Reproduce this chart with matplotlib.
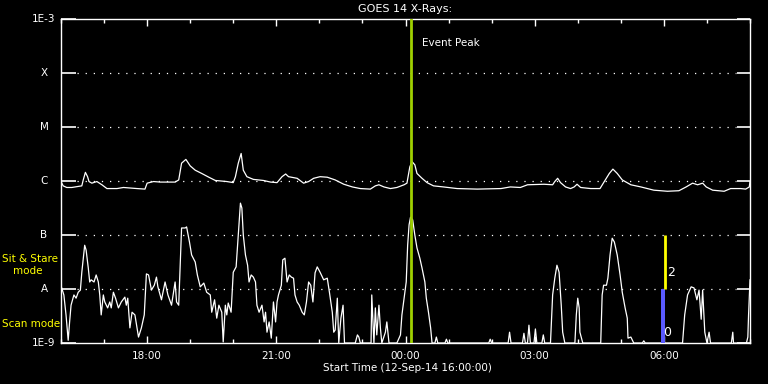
import numpy as np
import matplotlib
matplotlib.use("Agg")
import matplotlib.pyplot as plt

# short channel (0.5-4 A), minutes after 16:00, log10 flux
lo_min = [0, 4, 7, 10, 12, 14, 18, 21, 24, 27, 29, 33, 35, 38, 40, 42, 46, 49, 52, 54,
          56, 59, 61, 65, 68, 70, 73, 76, 80, 84, 89, 91, 93, 96, 99, 103, 106, 108, 112, 116,
          119, 122, 126, 130, 133, 135, 140, 145, 149, 154, 159, 161, 164, 166, 168, 173, 175, 179, 182, 187,
          190, 194, 199, 203, 208, 210, 214, 217, 220, 224, 226, 229, 231, 233, 237, 240, 244, 246, 250, 252,
          254, 257, 260, 262, 265, 268, 271, 273, 276, 280, 283, 285, 287, 290, 293, 296, 299, 301, 303, 307,
          309, 312, 315, 318, 321, 324, 326, 329, 332, 336, 339, 342, 345, 348, 351, 354, 357, 361, 366, 371,
          374, 378, 380, 382, 385, 387, 390, 393, 395, 410, 413, 415, 417, 432, 433, 436, 438, 440, 443, 445,
          447, 452, 454, 457, 468, 473, 475, 478, 481, 483, 485, 487, 490, 493, 496, 500, 503, 507, 509, 512,
          515, 517, 521, 523, 525, 535, 537, 539, 596, 598, 600, 623, 625, 627, 643, 645, 647, 650, 652, 654,
          659, 661, 663, 670, 672, 674, 682, 685, 688, 691, 694, 697, 699, 702, 716, 718, 720, 722, 723, 727,
          752, 754, 756, 760, 762, 765, 768, 771, 775, 779, 782, 786, 789, 790, 794, 798, 810, 812, 814, 866,
          869, 873, 878, 882, 886, 889, 892, 894, 897, 900, 903, 905, 934, 936, 937, 955, 957, 958, 960]
lo_log = [-7.94, -8.11, -8.48, -8.95, -8.61, -8.30, -8.11, -8.17, -8.06, -8.02, -7.69, -7.19, -7.28, -7.61, -7.87, -7.83, -7.87, -7.74, -7.87, -8.11,
          -8.48, -8.11, -8.24, -8.35, -8.24, -8.35, -8.06, -8.17, -8.35, -8.24, -8.15, -8.30, -8.17, -8.72, -8.43, -8.48, -8.72, -8.89, -8.72, -8.48,
          -7.72, -7.74, -8.02, -7.93, -7.78, -7.96, -8.20, -7.87, -8.11, -8.30, -7.87, -8.24, -8.30, -7.56, -6.87, -6.87, -6.85, -7.13, -7.37, -7.50,
          -7.74, -7.96, -7.89, -8.06, -8.11, -8.43, -8.20, -8.54, -8.30, -8.43, -8.98, -8.30, -8.48, -8.26, -8.43, -7.69, -7.59, -7.19, -6.41, -6.50,
          -7.00, -7.37, -7.56, -7.87, -7.74, -7.78, -7.87, -8.30, -8.43, -8.30, -8.61, -8.43, -8.80, -8.61, -8.91, -8.24, -8.61, -8.24, -8.11, -7.93,
          -7.46, -7.43, -7.87, -7.74, -7.78, -7.80, -8.11, -8.24, -8.30, -8.43, -8.48, -8.24, -7.87, -7.93, -8.24, -7.70, -7.59, -7.69, -7.83, -7.80,
          -8.06, -8.43, -8.80, -8.76, -8.17, -9.0, -8.54, -8.30, -9.0, -9.0, -8.85, -8.89, -9.0, -9.0, -8.11, -9.0, -8.35, -8.85, -8.30, -8.72,
          -9.0, -8.80, -8.61, -9.0, -9.0, -8.85, -8.48, -8.17, -7.87, -7.19, -6.81, -6.67, -6.72, -7.00, -7.24, -7.43, -7.61, -7.87, -8.17, -8.43,
          -8.72, -9.0, -9.0, -8.89, -9.0, -9.0, -8.93, -9.0, -9.0, -8.93, -9.0, -9.0, -8.80, -9.0, -9.0, -8.82, -9.0, -9.0, -8.67, -9.0,
          -9.0, -8.74, -9.0, -9.0, -8.85, -9.0, -9.0, -8.11, -7.80, -7.56, -7.69, -8.30, -8.80, -9.0, -9.0, -8.48, -8.17, -8.35, -8.80, -9.0,
          -9.0, -8.11, -7.93, -7.93, -7.80, -7.37, -7.06, -7.13, -7.37, -7.74, -8.06, -8.35, -8.54, -8.91, -8.89, -9.0, -9.0, -8.96, -9.0, -9.0,
          -8.48, -8.11, -7.96, -7.98, -8.20, -8.02, -8.56, -8.02, -8.80, -9.0, -8.80, -9.0, -9.0, -8.80, -9.0, -9.0, -8.89, -8.48, -7.83]

# long channel (1-8 A)
hi_min = [0, 3, 8, 15, 29, 31, 34, 37, 39, 43, 50, 57, 64, 78, 87, 106, 117, 120, 129, 138,
          159, 164, 168, 174, 180, 187, 196, 206, 215, 231, 240, 243, 247, 251, 254, 259, 268, 282, 292, 301,
          308, 313, 317, 329, 338, 345, 352, 361, 371, 382, 394, 406, 417, 431, 438, 443, 450, 459, 468, 478,
          482, 486, 489, 493, 496, 503, 510, 519, 533, 552, 580, 613, 626, 640, 650, 673, 685, 688, 692, 696,
          703, 710, 715, 719, 724, 738, 751, 757, 764, 769, 775, 782, 794, 808, 826, 845, 861, 871, 880, 887,
          894, 899, 908, 924, 933, 947, 954, 959, 960]
hi_log = [-6.01, -6.09, -6.12, -6.12, -6.09, -5.98, -5.84, -5.92, -6.01, -6.04, -6.01, -6.07, -6.14, -6.14, -6.12, -6.14, -6.15, -6.04, -6.01, -6.02,
          -6.02, -5.98, -5.67, -5.60, -5.72, -5.80, -5.86, -5.93, -5.99, -6.01, -6.03, -5.92, -5.67, -5.49, -5.80, -5.92, -5.97, -5.99, -6.02, -6.03,
          -5.92, -5.87, -5.92, -5.95, -6.04, -6.01, -5.95, -5.92, -5.93, -5.98, -6.06, -6.11, -6.14, -6.15, -6.09, -6.07, -6.11, -6.14, -6.12, -6.07,
          -6.04, -5.74, -5.64, -5.70, -5.86, -5.95, -6.03, -6.09, -6.11, -6.14, -6.15, -6.14, -6.11, -6.12, -6.07, -6.06, -6.07, -6.01, -5.95, -6.03,
          -6.11, -6.14, -6.11, -6.06, -6.12, -6.14, -6.14, -6.01, -5.86, -5.78, -5.86, -5.98, -6.07, -6.11, -6.17, -6.19, -6.18, -6.11, -6.04, -6.07,
          -6.04, -6.11, -6.17, -6.19, -6.14, -6.14, -6.15, -6.11, -6.01]

ylevels = [1e-3, 1e-4, 1e-5, 1e-6, 1e-7, 1e-8, 1e-9]
ylabels = ["1E-3", "X", "M", "C", "B", "A", "1E-9"]
xticks_h = [2, 5, 8, 11, 14]
xlabels = ["18:00", "21:00", "00:00", "03:00", "06:00"]

event_peak_min = 488
scan_min, scan_lo, scan_hi = 839, 1e-9, 1e-8
stare_min, stare_lo, stare_hi = 841.6, 1e-8, 1e-7

fig = plt.figure(figsize=(7.68, 3.84), dpi=100, facecolor="black")
ax = fig.add_axes([61 / 768, 41 / 384, 689 / 768, 324 / 384], facecolor="black")

ax.set_yscale("log")
ax.set_ylim(1e-9, 1e-3)
ax.set_xlim(0, 16)

# dotted class levels
for lev in ylevels[1:-1]:
    ax.axhline(lev, xmin=16 / 689, xmax=1 - 14 / 689, color="white",
               lw=0.9, ls=(0, (1, 5.5)), zorder=1)

ax.plot(np.array(hi_min) / 60, 10 ** np.array(hi_log), color="white", lw=0.9, zorder=3)
ax.plot(np.array(lo_min) / 60, 10 ** np.array(lo_log), color="white", lw=0.9, zorder=3)

ax.axvline(event_peak_min / 60, color="#9fd000", lw=2.0, zorder=4)
ax.text(event_peak_min / 60 + 0.25, 10 ** -3.45, "Event Peak", color="white",
        fontsize=7.5, va="center", ha="left")

ax.bar([scan_min / 60], [scan_hi - scan_lo], bottom=scan_lo, width=6 / 60,
       color="#5a5aff", zorder=5)
ax.vlines(stare_min / 60, stare_lo, stare_hi, color="#ffff00", lw=2.0, zorder=5)
ax.text(849.7 / 60, 10 ** -7.69, "2", color="white", fontsize=9, ha="center", va="center", zorder=6)
ax.text(843.9 / 60, 10 ** -8.81, "0", color="white", fontsize=9, ha="center", va="center", zorder=6)

for s in ax.spines.values():
    s.set_color("white")
    s.set_linewidth(1.0)

ax.set_yticks(ylevels)
ax.set_yticklabels([])
ax.yaxis.set_minor_locator(matplotlib.ticker.NullLocator())
ax.tick_params(axis="y", which="major", left=True, right=True, direction="in",
               length=10.8, width=1.2, color="white")
for t in ax.yaxis.get_major_ticks():
    t.tick2line.set_markersize(9.4)
for lev, lab in zip(ylevels, ylabels):
    ax.text(-17 / 689, lev, lab, color="white", fontsize=7.5, ha="center", va="center",
            transform=ax.get_yaxis_transform())

ax.set_xticks(xticks_h)
ax.set_xticklabels(xlabels)
ax.set_xticks(np.arange(0, 17, 1), minor=True)
ax.tick_params(axis="x", which="both", top=True, bottom=True, direction="in",
               color="white", labelcolor="white", labelsize=7.5, width=1.0, pad=6)
ax.tick_params(axis="x", which="major", length=4.7)
ax.tick_params(axis="x", which="minor", length=2.6)

fig.text(405 / 768, 1 - 9 / 384, "GOES 14 X-Rays:", color="white", fontsize=8,
         ha="center", va="center")
fig.text(407 / 768, 1 - 368 / 384, "Start Time (12-Sep-14 16:00:00)", color="white",
         fontsize=7.5, ha="center", va="center")
fig.text(2 / 768, 1 - 259 / 384, "Sit & Stare", color="#ffff00", fontsize=7.5, ha="left", va="center")
fig.text(13 / 768, 1 - 271 / 384, "mode", color="#ffff00", fontsize=7.5, ha="left", va="center")
fig.text(2 / 768, 1 - 324 / 384, "Scan mode", color="#ffff00", fontsize=7.5, ha="left", va="center")

fig.savefig("out.png", dpi=100, facecolor="black")
